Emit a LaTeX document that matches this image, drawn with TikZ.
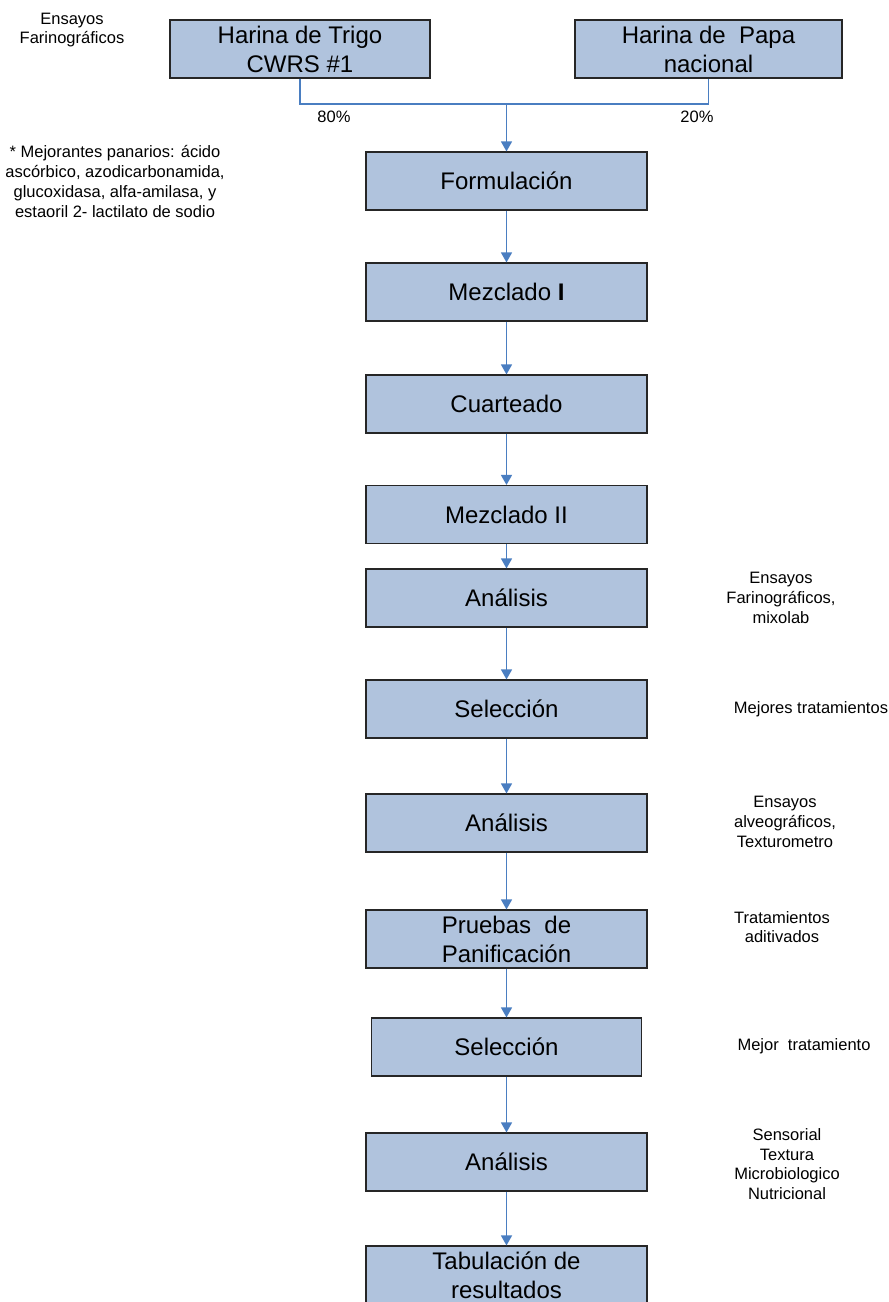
\documentclass[tikz,border=0pt]{standalone}
\usepackage{fontspec}
\setmainfont{Liberation Sans}
\usetikzlibrary{arrows.meta}
\definecolor{boxfill}{RGB}{176,195,221}
\definecolor{boxline}{RGB}{38,38,38}
\definecolor{conncol}{RGB}{74,126,193}
\tikzset{
  proc/.style={draw=boxline, fill=boxfill, line width=1.1pt, minimum width=281pt, minimum height=58pt,
    inner sep=0pt, align=center, font=\fontsize{24}{29}\selectfont},
  note/.style={align=center, inner sep=0pt, font=\fontsize{16.5}{19.8}\selectfont},
  conn/.style={draw=conncol, line width=1.2pt},
  arr/.style={conn, -{Triangle[width=11pt,length=10pt]}, shorten >=0pt}
}
\begin{document}
\begin{tikzpicture}[x=1pt,y=-1pt]
\clip (0,0) rectangle (889,1302);
\fill[white] (0,0) rectangle (889,1302);
% boxes
\node[proc, minimum width=260pt] (trigo) at (300,49) {Harina de Trigo\\CWRS \#1};
\node[proc, minimum width=267pt] (papa) at (708.5,49) {Harina de\ \ Papa\\nacional};
\node[proc] (form) at (506.5,181) {Formulación};
\node[proc] (mez1) at (506.5,292) {Mezclado \textbf{I}};
\node[proc] (cuart) at (506.5,404) {Cuarteado};
\node[proc] (mez2) at (506.5,514.5) {Mezclado II};
\node[proc] (anal1) at (506.5,598) {Análisis};
\node[proc] (sel1) at (506.5,709) {Selección};
\node[proc] (anal2) at (506.5,823) {Análisis};
\node[proc] (prue) at (506.5,939) {Pruebas\ \ de\\Panificación};
\node[proc, minimum width=270pt] (sel2) at (506.5,1047) {Selección};
\node[proc] (anal3) at (506.5,1162) {Análisis};
\node[proc] (tab) at (506.5,1275) {Tabulación de\\resultados};
% junction
\coordinate (j) at (506.5,104);
\draw[conn] (trigo.south) |- (j);
\draw[conn] (papa.south) |- (j);
\draw[arr] (j) -- (form.north);
\draw[arr] (form) -- (mez1);
\draw[arr] (mez1) -- (cuart);
\draw[arr] (cuart) -- (mez2);
\draw[arr] (mez2) -- (anal1);
\draw[arr] (anal1) -- (sel1);
\draw[arr] (sel1) -- (anal2);
\draw[arr] (anal2) -- (prue);
\draw[arr] (prue) -- (sel2);
\draw[arr] (sel2) -- (anal3);
\draw[arr] (anal3) -- (tab);
% notes
\node[note] (n80) at (334,117) {80\%};
\node[note] (n20) at (697,117) {20\%};
\node[note] (nens) at (72,30) {Ensayos\\Farinográficos};
\node[note] (nmej) at (115,181.5) {* Mejorantes panarios: ácido\\ascórbico, azodicarbonamida,\\glucoxidasa, alfa-amilasa, y\\estaoril 2- lactilato de sodio};
\node[note] (nfar) at (781,598) {Ensayos\\Farinográficos,\\mixolab};
\node[note] (nmejt) at (811,709) {Mejores tratamientos};
\node[note] (nalv) at (785,822) {Ensayos\\alveográficos,\\Texturometro};
\node[note] (ntra) at (782,927) {Tratamientos\\aditivados};
\node[note] (nmt) at (804,1046) {Mejor\ \ tratamiento};
\node[note] (nsen) at (787,1164) {Sensorial\\Textura\\Microbiologico\\Nutricional};
\end{tikzpicture}
\end{document}
